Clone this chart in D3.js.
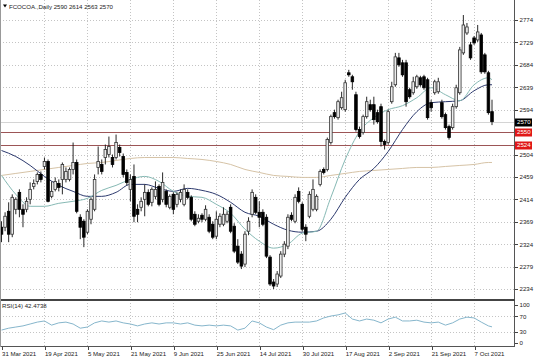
<!DOCTYPE html>
<html><head><meta charset="utf-8">
<script src="https://cdn.jsdelivr.net/npm/d3@7"></script>
<style>html,body{margin:0;padding:0;background:#fff;overflow:hidden}text{font-family:"Liberation Sans",Arial,sans-serif}</style>
</head><body><svg id="c" width="536" height="357"></svg>
<script>
const symbolTitle = "FCOCOA.,Daily";
const lastOHLC = [2590, 2614, 2563, 2570];

const open = [2358,2358,2390,2344,2394,2428,2394,2394,2414,2440,
2450,2464,2480,2490,2420,2434,2446,2454,2454,2454,
2474,2488,2378,2370,2348,2374,2394,2478,2484,2498,
2504,2498,2498,2518,2500,2468,2434,2460,2394,2398,
2414,2428,2408,2420,2440,2414,2430,2398,2424,2404,
2414,2404,2428,2418,2384,2370,2382,2374,2378,2364,
2340,2364,2364,2370,2398,2360,2320,2304,2284,2350,
2384,2418,2388,2388,2378,2298,2248,2244,2260,2304,
2320,2382,2370,2430,2404,2358,2380,2394,2394,2444,
2474,2474,2528,2588,2578,2598,2594,2668,2660,2624,
2554,2548,2580,2604,2604,2588,2600,2530,2528,2610,
2644,2698,2688,2688,2634,2628,2640,2658,2660,2654,
2608,2628,2630,2608,2584,2560,2558,2600,2628,2708,
2748,2724,2738,2734,2744,2704,2668,2590];
const high = [2370,2388,2408,2424,2418,2434,2404,2418,2448,2454,
2468,2470,2498,2494,2450,2458,2454,2488,2478,2478,
2528,2494,2384,2374,2394,2418,2464,2520,2494,2524,
2540,2504,2544,2524,2506,2474,2464,2484,2404,2418,
2444,2434,2438,2450,2444,2468,2434,2424,2428,2428,
2434,2444,2434,2422,2390,2384,2386,2402,2384,2370,
2390,2386,2398,2390,2404,2366,2334,2310,2350,2378,
2434,2424,2410,2394,2384,2302,2254,2270,2310,2330,
2384,2388,2424,2438,2408,2364,2430,2454,2424,2474,
2478,2538,2584,2594,2614,2630,2654,2674,2664,2630,
2560,2584,2620,2614,2620,2594,2606,2534,2594,2650,
2708,2708,2694,2694,2638,2660,2664,2662,2664,2658,
2614,2654,2658,2614,2588,2564,2606,2644,2720,2784,
2768,2730,2742,2764,2748,2708,2672,2614];
const low = [2328,2350,2328,2338,2384,2378,2358,2388,2404,2434,
2444,2448,2474,2408,2416,2430,2430,2424,2448,2450,
2464,2386,2334,2318,2344,2364,2390,2464,2464,2484,
2498,2478,2494,2500,2458,2442,2410,2368,2368,2390,
2380,2400,2400,2414,2400,2408,2398,2394,2384,2398,
2408,2400,2414,2370,2360,2366,2368,2370,2346,2334,
2334,2358,2360,2366,2346,2306,2284,2274,2278,2342,
2378,2384,2358,2360,2296,2240,2234,2238,2256,2298,
2314,2370,2366,2406,2350,2330,2376,2390,2390,2440,
2464,2470,2524,2576,2574,2594,2590,2660,2634,2550,
2536,2544,2576,2590,2564,2566,2520,2514,2524,2606,
2640,2680,2660,2600,2616,2624,2636,2640,2634,2574,
2590,2624,2626,2576,2554,2534,2554,2596,2624,2704,
2744,2694,2724,2730,2666,2666,2584,2563];
const close = [2344,2380,2344,2418,2414,2394,2384,2410,2434,2446,
2464,2454,2490,2410,2430,2450,2438,2484,2470,2474,
2488,2390,2358,2338,2390,2414,2454,2490,2470,2514,
2520,2484,2528,2508,2464,2448,2454,2380,2384,2410,
2428,2404,2434,2434,2404,2448,2404,2420,2394,2424,
2428,2434,2418,2374,2364,2376,2374,2394,2350,2338,
2374,2380,2384,2384,2350,2310,2288,2280,2344,2370,
2428,2388,2378,2364,2300,2244,2240,2264,2304,2324,
2378,2374,2418,2410,2354,2344,2424,2434,2420,2470,
2468,2534,2580,2580,2610,2618,2648,2664,2650,2554,
2540,2580,2610,2594,2574,2570,2530,2524,2590,2640,
2700,2684,2664,2610,2620,2650,2660,2644,2638,2578,
2598,2650,2650,2580,2558,2538,2600,2638,2714,2764,
2760,2698,2728,2750,2670,2670,2588,2570];

const xTickIdx = [0,12,24,36,48,60,72,84,96,108,120,132];
const xTickLabels = ["31 Mar 2021","19 Apr 2021","5 May 2021","21 May 2021","9 Jun 2021","25 Jun 2021","14 Jul 2021","30 Jul 2021","17 Aug 2021","2 Sep 2021","21 Sep 2021","7 Oct 2021"];
const yTicks = [2774,2729,2684,2639,2594,2549,2504,2459,2414,2369,2324,2279,2234];
const levels = [2550, 2524];

const maIdx = [0,4,8,12,16,20,24,28,32,36,40,44,48,52,56,60,64,68,72,76,80,84,88,92,96,100,104,108,112,116,120,124,128,132,136,137];
const maFast = [2462,2424,2400,2400,2406,2410,2416,2432,2442,2454,2460,2450,2430,2420,2418,2404,2386,2354,2330,2316,2324,2346,2350,2418,2494,2550,2578,2594,2602,2618,2638,2624,2612,2644,2658,2654];
const maSlow = [2512,2500,2482,2460,2442,2430,2420,2420,2428,2444,2444,2436,2430,2436,2432,2424,2408,2388,2380,2364,2352,2348,2350,2374,2418,2454,2476,2510,2554,2590,2608,2610,2612,2632,2644,2644];
const maLong = [2462,2466,2470,2474,2478,2482,2486,2488,2492,2496,2498,2498,2498,2496,2494,2490,2484,2474,2468,2462,2460,2458,2458,2462,2466,2470,2472,2474,2476,2478,2478,2480,2482,2484,2488,2488];

const rsiIdx = [0,2,4,6,8,10,12,14,16,18,20,22,24,26,28,30,32,34,36,38,40,42,44,46,48,50,52,54,56,58,60,62,64,66,68,70,72,74,76,78,80,82,84,86,88,90,92,94,96,98,100,102,104,106,108,110,112,114,116,118,120,122,124,126,128,130,132,134,136,137];
const rsiVal = [34,39,42,45,50,55,58,47,53,55,50,39,42,53,58,55,58,53,50,45,50,53,50,53,53,50,53,47,45,47,45,47,45,34,39,58,53,42,35,47,53,55,55,55,58,66,71,74,79,63,58,63,60,53,63,68,58,58,60,55,53,55,47,53,63,68,66,55,45,42.4738];
const rsiTicks = [100,70,30,0];
const rsiLevels = [70,30];

const svg = d3.select("#c");
const W = 536, H = 357;
const axisX = 514, mainTop = 0, mainBot = 299, rsiTop = 301, rsiBot = 346;
const n = close.length;
const FONT = 6.1;

const x = d3.scaleLinear().domain([0, n-1]).range([1.5, 492]);
const y = d3.scaleLinear().domain([2234, 2774]).range([289, 20]);
const yr = d3.scaleLinear().domain([0, 100]).range([343, 305]);
const px = v => Math.round(v) + 0.5;

svg.append("rect").attr("width", W).attr("height", H).attr("fill", "#fff");

const defs = svg.append("defs");
defs.append("clipPath").attr("id","cm").append("rect").attr("x",0).attr("y",mainTop).attr("width",axisX).attr("height",mainBot-mainTop);
defs.append("clipPath").attr("id","cr").append("rect").attr("x",0).attr("y",rsiTop).attr("width",axisX).attr("height",rsiBot-rsiTop);

// grid
const grid = svg.append("g").attr("stroke","#c4c4c4").attr("stroke-width",1).attr("stroke-dasharray","1,2").attr("shape-rendering","crispEdges");
grid.selectAll(".hg").data(yTicks).join("line").attr("x1",0).attr("x2",axisX).attr("y1",d=>px(y(d))).attr("y2",d=>px(y(d)));
grid.selectAll(".vg").data(xTickIdx.slice(1)).join("line").attr("x1",d=>px(x(d))).attr("x2",d=>px(x(d))).attr("y1",mainTop).attr("y2",rsiBot);
grid.selectAll(".rg").data(rsiLevels).join("line").attr("x1",0).attr("x2",axisX).attr("y1",d=>px(yr(d))).attr("y2",d=>px(yr(d)));

// level lines
svg.append("g").selectAll("line").data(levels).join("line")
  .attr("x1",0).attr("x2",axisX).attr("y1",d=>px(y(d))).attr("y2",d=>px(y(d)))
  .attr("stroke","#9c5556").attr("stroke-width",1).attr("shape-rendering","crispEdges");
// last price line
svg.append("line").attr("x1",0).attr("x2",axisX).attr("y1",px(y(lastOHLC[3]))).attr("y2",px(y(lastOHLC[3])))
  .attr("stroke","#d4d4d4").attr("stroke-width",1).attr("shape-rendering","crispEdges");

// moving averages
const maLine = vals => d3.line().x((d,i)=>x(maIdx[i])).y(d=>y(d)).curve(d3.curveMonotoneX)(vals);
const mg = svg.append("g").attr("clip-path","url(#cm)").attr("fill","none").attr("stroke-width",1);
mg.append("path").attr("d",maLine(maLong)).attr("stroke","#d6c3a6");
mg.append("path").attr("d",maLine(maSlow)).attr("stroke","#2d3a6e");
mg.append("path").attr("d",maLine(maFast)).attr("stroke","#86b9b4");

// candles
const data = close.map((c,i)=>({i,o:open[i],h:high[i],l:low[i],c}));
const cg = svg.append("g").attr("clip-path","url(#cm)");
cg.selectAll(".wk").data(data).join("line")
  .attr("x1",d=>x(d.i)).attr("x2",d=>x(d.i))
  .attr("y1",d=>y(d.h)).attr("y2",d=>y(d.l)).attr("stroke","#111").attr("stroke-width",0.9);
cg.selectAll(".bd").data(data).join("rect")
  .attr("x",d=>x(d.i)-1.3).attr("width",2.6)
  .attr("y",d=>y(Math.max(d.o,d.c)))
  .attr("height",d=>Math.max(0.8,Math.abs(y(d.o)-y(d.c))))
  .attr("fill",d=>d.c>=d.o?"#ececec":"#000").attr("stroke",d=>d.c>=d.o?"#333":"#000").attr("stroke-width",0.8);

// RSI
const rsiLine = d3.line().x((d,i)=>x(rsiIdx[i])).y(d=>yr(d));
svg.append("g").attr("clip-path","url(#cr)").append("path").attr("d",rsiLine(rsiVal))
  .attr("fill","none").attr("stroke","#86b6cc").attr("stroke-width",1);

// frame
const fr = svg.append("g").attr("stroke","#555").attr("shape-rendering","crispEdges");
fr.append("line").attr("x1",axisX+0.5).attr("x2",axisX+0.5).attr("y1",0).attr("y2",rsiBot+0.5).attr("stroke-width",1);
fr.append("line").attr("x1",0).attr("x2",axisX+0.5).attr("y1",300).attr("y2",300).attr("stroke-width",2).attr("stroke","#444");
fr.append("line").attr("x1",0).attr("x2",axisX+0.5).attr("y1",rsiBot+0.5).attr("y2",rsiBot+0.5).attr("stroke-width",1);
fr.append("line").attr("x1",0.5).attr("x2",0.5).attr("y1",0).attr("y2",rsiBot+0.5).attr("stroke-width",1).attr("stroke","#999");

// axes
const styleAxis = g => {
  g.select(".domain").remove();
  g.selectAll(".tick line").attr("stroke","#444").attr("shape-rendering","crispEdges");
  g.selectAll(".tick text").attr("fill","#222").style("font-size",FONT+"px").style("font-family","'Liberation Sans',Arial,sans-serif");
};
// the 2549 label is hidden behind the 2550 level box in the reference
const yLabelTicks = yTicks.filter(v => levels.every(l => Math.abs(l - v) > 5));
svg.append("g").attr("transform",`translate(${axisX+0.5},0)`)
  .call(d3.axisRight(y).tickValues(yLabelTicks).tickFormat(d3.format("d")).tickSize(3).tickPadding(2))
  .call(styleAxis);
svg.append("g").attr("transform",`translate(${axisX+0.5},0)`)
  .call(d3.axisRight(yr).tickValues(rsiTicks).tickFormat(d3.format("d")).tickSize(3).tickPadding(2))
  .call(styleAxis);
const xa = svg.append("g").attr("transform",`translate(0,${rsiBot+0.5})`)
  .call(d3.axisBottom(x).tickValues(xTickIdx).tickFormat((d,i)=>xTickLabels[i]).tickSize(3).tickPadding(2))
  .call(styleAxis);
xa.selectAll(".tick line").attr("transform","translate(0.5,0)");
xa.selectAll(".tick text").attr("text-anchor","start").attr("x",0);

// price boxes on axis
const boxes = [{v:lastOHLC[3],fill:"#000"},{v:levels[0],fill:"#e01818"},{v:levels[1],fill:"#e01818"}];
const bg = svg.append("g");
boxes.forEach(b=>{
  const yy = y(b.v);
  bg.append("rect").attr("x",axisX+1).attr("y",Math.round(yy)-3.5).attr("width",17).attr("height",8).attr("fill",b.fill);
  bg.append("text").attr("x",axisX+3).attr("y",yy).attr("dy","0.35em").attr("fill","#fff")
    .style("font-size",FONT+"px").text(d3.format("d")(b.v));
});

// title
svg.append("path").attr("d","M3,4.5 L7,4.5 L5,7.5 Z").attr("fill","#000");
svg.append("text").attr("x",9).attr("y",8.5).attr("fill","#222").style("font-size",FONT+"px")
  .text(symbolTitle + "  " + lastOHLC.join(" "));
// RSI label
svg.append("text").attr("x",2).attr("y",rsiTop+7).attr("fill","#222").style("font-size",FONT+"px")
  .text("RSI(14) " + rsiVal[rsiVal.length-1].toFixed(4));
</script></body></html>
